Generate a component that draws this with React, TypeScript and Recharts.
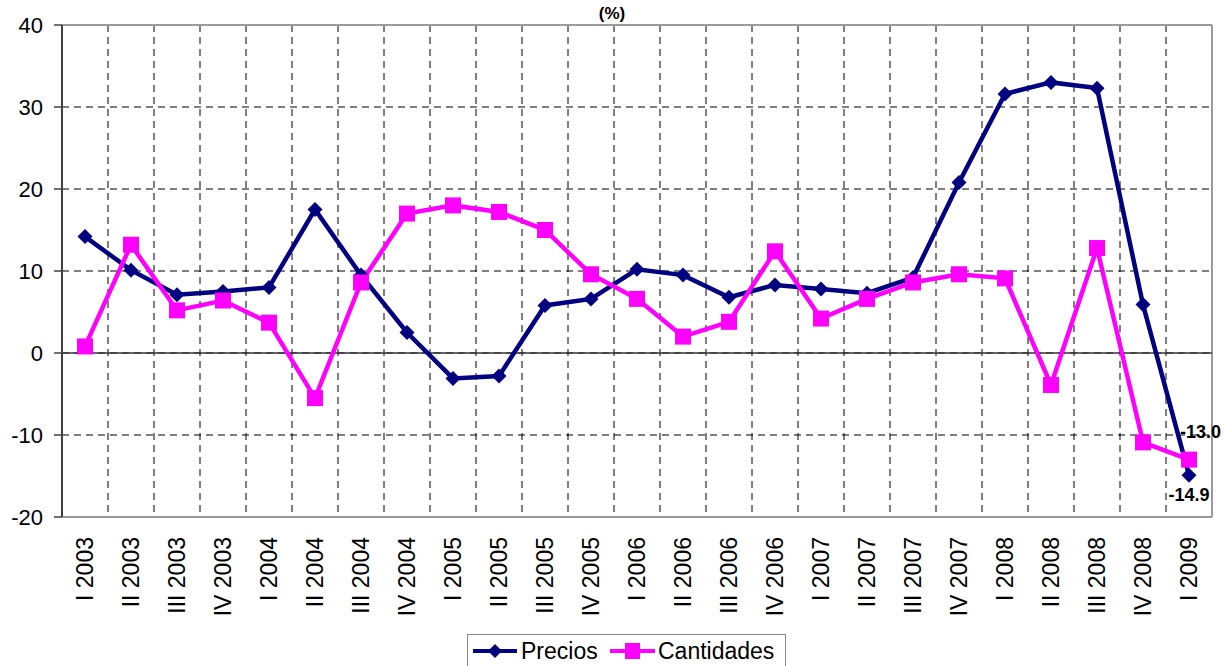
import React from "react";
import { LineChart, Line, XAxis, YAxis, CartesianGrid, ReferenceLine } from "recharts";

const categories = [
  "I 2003", "II 2003", "III 2003", "IV 2003",
  "I 2004", "II 2004", "III 2004", "IV 2004",
  "I 2005", "II 2005", "III 2005", "IV 2005",
  "I 2006", "II 2006", "III 2006", "IV 2006",
  "I 2007", "II 2007", "III 2007", "IV 2007",
  "I 2008", "II 2008", "III 2008", "IV 2008",
  "I 2009",
];
const precios = [14.2, 10.1, 7.1, 7.5, 8.0, 17.5, 9.5, 2.5, -3.1, -2.8, 5.8, 6.6, 10.2, 9.5, 6.8, 8.3, 7.8, 7.3, 9.2, 20.8, 31.6, 33.0, 32.3, 5.9, -14.9];
const cantidades = [0.8, 13.2, 5.2, 6.4, 3.7, -5.5, 8.6, 17.0, 18.0, 17.2, 15.0, 9.6, 6.6, 2.0, 3.8, 12.4, 4.2, 6.6, 8.6, 9.6, 9.1, -3.9, 12.8, -10.9, -13.0];
const yTicks = [-20, -10, 0, 10, 20, 30, 40];
const title = "(%)";
const seriesNames = ["Precios", "Cantidades"];

const NAVY = "#000080";
const MAGENTA = "#FF00FF";
const FONT = "'Liberation Sans', Arial, sans-serif";

const data = categories.map((q, i) => ({ q, precios: precios[i], cantidades: cantidades[i] }));
const lastIndex = categories.length - 1;

const Diamond = (props: any) => {
  const { cx, cy } = props;
  if (cx == null || cy == null) return null;
  const r = 7.5;
  return <polygon points={`${cx},${cy - r} ${cx + r},${cy} ${cx},${cy + r} ${cx - r},${cy}`} fill={NAVY} />;
};

const Square = (props: any) => {
  const { cx, cy } = props;
  if (cx == null || cy == null) return null;
  const s = 8;
  return <rect x={cx - s} y={cy - s} width={2 * s} height={2 * s} fill={MAGENTA} />;
};

const XTick = (props: any) => {
  const { x, y, payload } = props;
  return (
    <g transform={`translate(${x},${y})`}>
      <text transform="rotate(-90)" textAnchor="end" dy="0.36em" fontSize={23} fontFamily={FONT} fill="#000">
        {payload.value}
      </text>
    </g>
  );
};

const preciosLabel = (props: any) => {
  const { x, y, index, value } = props;
  if (index !== lastIndex) return null;
  return (
    <text x={x} y={y + 19} dy="0.36em" textAnchor="middle" fontSize={18} fontWeight="bold" fontFamily={FONT} fill="#000">
      {Number(value).toFixed(1)}
    </text>
  );
};

const cantidadesLabel = (props: any) => {
  const { x, y, index, value } = props;
  if (index !== lastIndex) return null;
  return (
    <text x={x - 9} y={y - 28} dy="0.36em" textAnchor="start" fontSize={18} fontWeight="bold" fontFamily={FONT} fill="#000">
      {Number(value).toFixed(1)}
    </text>
  );
};

export default function App() {
  const n = categories.length;
  return (
    <div style={{ position: "absolute", left: 0, top: 0, width: 1224, height: 666, background: "#fff", overflow: "hidden" }}>
      <LineChart width={1224} height={666} data={data} margin={{ top: 25, right: 12, bottom: 0, left: 0 }}>
        <CartesianGrid
          stroke="#000"
          strokeWidth={1}
          strokeDasharray="7 5"
          verticalCoordinatesGenerator={({ offset }: any) =>
            Array.from({ length: n - 1 }, (_, i) => offset.left + ((i + 1) * offset.width) / n)
          }
        />
        <CartesianGrid
          stroke="#9a9a9a"
          strokeWidth={2}
          horizontalCoordinatesGenerator={({ offset }: any) => [offset.top, offset.top + offset.height]}
          verticalCoordinatesGenerator={({ offset }: any) => [offset.left + offset.width]}
        />
        <ReferenceLine y={0} stroke="#333" strokeWidth={1.5} />
        <XAxis
          dataKey="q"
          interval={0}
          height={149}
          padding={{ left: 23, right: 23 }}
          axisLine={false}
          tickLine={false}
          tickSize={0}
          tickMargin={20}
          tick={<XTick />}
        />
        <YAxis
          width={62}
          domain={[-20, 40]}
          ticks={yTicks}
          allowDataOverflow
          axisLine={{ stroke: "#404040", strokeWidth: 2 }}
          tickLine={{ stroke: "#404040", strokeWidth: 1.5 }}
          tickSize={8}
          tickMargin={11}
          tick={{ fontSize: 22, fontFamily: FONT, fill: "#000" }}
        />
        <Line
          type="linear"
          dataKey="precios"
          name={seriesNames[0]}
          stroke={NAVY}
          strokeWidth={4.5}
          dot={<Diamond />}
          activeDot={false}
          label={preciosLabel}
          isAnimationActive={false}
        />
        <Line
          type="linear"
          dataKey="cantidades"
          name={seriesNames[1]}
          stroke={MAGENTA}
          strokeWidth={4.5}
          dot={<Square />}
          activeDot={false}
          label={cantidadesLabel}
          isAnimationActive={false}
        />
      </LineChart>
      <div
        style={{
          position: "absolute",
          left: 0,
          top: 4,
          width: 1224,
          fontFamily: FONT,
          fontWeight: "bold",
          fontSize: 17,
          lineHeight: "20px",
        }}
      >
        <span style={{ position: "absolute", left: 612, transform: "translateX(-50%)" }}>{title}</span>
      </div>
      <div
        style={{
          position: "absolute",
          left: 467,
          top: 634,
          width: 319,
          height: 40,
          border: "1px solid #888",
          background: "#fff",
          boxSizing: "border-box",
        }}
      >
        <svg width={319} height={40} style={{ position: "absolute", left: -1, top: -1 }}>
          <line x1={6} y1={17} x2={50} y2={17} stroke={NAVY} strokeWidth={4} />
          <polygon points="28,10 35,17 28,24 21,17" fill={NAVY} />
          <text x={54} y={25} fontSize={23} fontFamily={FONT} fill="#000">{seriesNames[0]}</text>
          <line x1={143} y1={17} x2={188} y2={17} stroke={MAGENTA} strokeWidth={4} />
          <rect x={158} y={9} width={15} height={16} fill={MAGENTA} />
          <text x={191} y={25} fontSize={23} fontFamily={FONT} fill="#000">{seriesNames[1]}</text>
        </svg>
      </div>
    </div>
  );
}
